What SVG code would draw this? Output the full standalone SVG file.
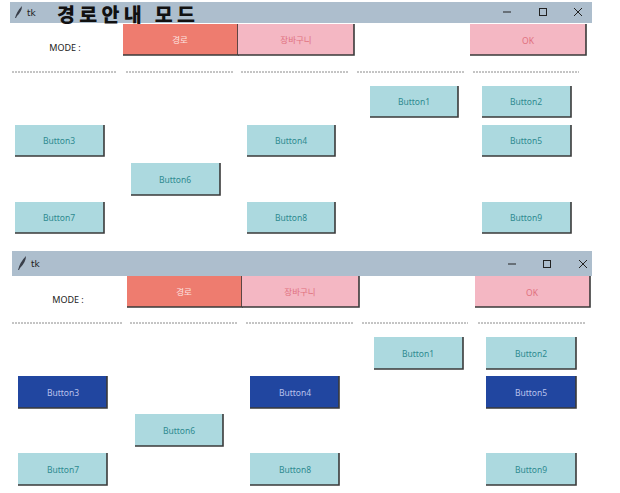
<svg xmlns="http://www.w3.org/2000/svg" width="620" height="493" viewBox="0 0 620 493">
<style>
.bar{fill:#adbecd}
.lb{fill:#acd9df}
.pk{fill:#f4b7c3}
.sa{fill:#ee7c6f}
.db{fill:#2146a0}
.sh{fill:none;stroke:#3a3a3a;stroke-width:1.6}
.t{font-family:"Noto Sans","Noto Sans CJK KR",sans-serif;font-size:8.5px;text-anchor:middle;dominant-baseline:central}
.tlb{fill:#2e8a90}
.tpk{fill:#e0707e}
.tsa{fill:#fde4e0}
.tdb{fill:#b9c2ec}
.lab{font-family:"Noto Sans",sans-serif;font-size:9px;fill:#222;text-anchor:middle;dominant-baseline:central}
.dash{stroke:#8a8a8a;stroke-width:1;stroke-dasharray:2 1}
.ctl{fill:none;stroke:#222;stroke-width:1}
.tk{font-family:"DejaVu Sans",sans-serif;font-size:9px;fill:#222}
.fea{fill:#3a3f4a}
</style>

<!-- Top window -->
<g id="window1">
  <g id="titlebar1">
    <rect class="bar" x="10" y="2" width="582" height="21"/>
    <path class="fea" d="M15 18 Q17 11 22 6 Q22 11 17 16 L16 18 Z"/>
    <text class="tk" x="27" y="16">tk</text>
    <text x="57" y="22" font-family="'Noto Sans CJK KR',sans-serif" font-size="19.5" font-weight="900" fill="#111" textLength="138" lengthAdjust="spacing">경로안내 모드</text>
    <line class="ctl" x1="503" y1="12" x2="511" y2="12"/>
    <rect class="ctl" x="539.5" y="8.5" width="7" height="7"/>
    <path class="ctl" d="M574 8 L582 16 M582 8 L574 16"/>
  </g>
  <g id="mode1"><text class="lab" x="65" y="47">MODE :</text></g>
  <g id="btn-route1">
    <rect class="sa" x="123" y="24" width="115" height="31"/>
    <polyline class="sh" points="123,55 238,55 238,24"/>
    <text class="t tsa" x="180" y="39">경로</text>
  </g>
  <g id="btn-cart1">
    <rect class="pk" x="238" y="24" width="116" height="31"/>
    <polyline class="sh" points="238,55 354,55 354,24"/>
    <text class="t tpk" x="296" y="39">장바구니</text>
  </g>
  <g id="btn-ok1">
    <rect class="pk" x="470" y="24" width="116" height="31"/>
    <polyline class="sh" points="470,55 586,55 586,24"/>
    <text class="t tpk" x="528" y="40">OK</text>
  </g>
  <g id="sep1">
    <line class="dash" x1="12" y1="72" x2="117" y2="72"/>
    <line class="dash" x1="126" y1="72" x2="233" y2="72"/>
    <line class="dash" x1="241" y1="72" x2="349" y2="72"/>
    <line class="dash" x1="357" y1="72" x2="465" y2="72"/>
    <line class="dash" x1="473" y1="72" x2="579" y2="72"/>
  </g>
  <g id="b1-1"><rect class="lb" x="370" y="86" width="88" height="31"/><polyline class="sh" points="370,117 458,117 458,86"/><text class="t tlb" x="414" y="101">Button1</text></g>
  <g id="b1-2"><rect class="lb" x="482" y="86" width="89" height="31"/><polyline class="sh" points="482,117 571,117 571,86"/><text class="t tlb" x="526" y="101">Button2</text></g>
  <g id="b1-3"><rect class="lb" x="15" y="125" width="89" height="31"/><polyline class="sh" points="15,156 104,156 104,125"/><text class="t tlb" x="59" y="140">Button3</text></g>
  <g id="b1-4"><rect class="lb" x="247" y="125" width="88" height="31"/><polyline class="sh" points="247,156 335,156 335,125"/><text class="t tlb" x="291" y="140">Button4</text></g>
  <g id="b1-5"><rect class="lb" x="482" y="125" width="89" height="31"/><polyline class="sh" points="482,156 571,156 571,125"/><text class="t tlb" x="526" y="140">Button5</text></g>
  <g id="b1-6"><rect class="lb" x="131" y="163" width="89" height="32"/><polyline class="sh" points="131,195 220,195 220,163"/><text class="t tlb" x="175" y="179">Button6</text></g>
  <g id="b1-7"><rect class="lb" x="15" y="202" width="89" height="31"/><polyline class="sh" points="15,233 104,233 104,202"/><text class="t tlb" x="59" y="217">Button7</text></g>
  <g id="b1-8"><rect class="lb" x="247" y="202" width="88" height="31"/><polyline class="sh" points="247,233 335,233 335,202"/><text class="t tlb" x="291" y="217">Button8</text></g>
  <g id="b1-9"><rect class="lb" x="482" y="202" width="89" height="31"/><polyline class="sh" points="482,233 571,233 571,202"/><text class="t tlb" x="526" y="217">Button9</text></g>
</g>

<!-- Bottom window -->
<g id="window2">
  <g id="titlebar2">
    <rect class="bar" x="12" y="251" width="580" height="25"/>
    <path class="fea" d="M18 270 Q20 262 26 256 Q26 262 20 268 L19 270 Z"/>
    <text class="tk" x="31" y="267">tk</text>
    <line class="ctl" x1="508" y1="264" x2="516" y2="264"/>
    <rect class="ctl" x="543.5" y="260.5" width="7" height="7"/>
    <path class="ctl" d="M579 260 L587 268 M587 260 L579 268"/>
  </g>
  <g id="mode2"><text class="lab" x="68" y="299">MODE :</text></g>
  <g id="btn-route2">
    <rect class="sa" x="127" y="276" width="115" height="31"/>
    <polyline class="sh" points="127,307 242,307 242,276"/>
    <text class="t tsa" x="184" y="291">경로</text>
  </g>
  <g id="btn-cart2">
    <rect class="pk" x="242" y="276" width="117" height="31"/>
    <polyline class="sh" points="242,307 359,307 359,276"/>
    <text class="t tpk" x="300" y="291">장바구니</text>
  </g>
  <g id="btn-ok2">
    <rect class="pk" x="475" y="276" width="115" height="31"/>
    <polyline class="sh" points="475,307 590,307 590,276"/>
    <text class="t tpk" x="532" y="292">OK</text>
  </g>
  <g id="sep2">
    <line class="dash" x1="12" y1="323" x2="122" y2="323"/>
    <line class="dash" x1="130" y1="323" x2="237" y2="323"/>
    <line class="dash" x1="246" y1="323" x2="353" y2="323"/>
    <line class="dash" x1="362" y1="323" x2="468" y2="323"/>
    <line class="dash" x1="478" y1="323" x2="585" y2="323"/>
  </g>
  <g id="b2-1"><rect class="lb" x="374" y="337" width="89" height="32"/><polyline class="sh" points="374,369 463,369 463,337"/><text class="t tlb" x="418" y="353">Button1</text></g>
  <g id="b2-2"><rect class="lb" x="486" y="337" width="90" height="32"/><polyline class="sh" points="486,369 576,369 576,337"/><text class="t tlb" x="531" y="353">Button2</text></g>
  <g id="b2-3"><rect class="db" x="18" y="376" width="89" height="32"/><polyline class="sh" points="18,408 107,408 107,376"/><text class="t tdb" x="63" y="392">Button3</text></g>
  <g id="b2-4"><rect class="db" x="250" y="376" width="89" height="32"/><polyline class="sh" points="250,408 339,408 339,376"/><text class="t tdb" x="295" y="392">Button4</text></g>
  <g id="b2-5"><rect class="db" x="486" y="376" width="90" height="32"/><polyline class="sh" points="486,408 576,408 576,376"/><text class="t tdb" x="531" y="392">Button5</text></g>
  <g id="b2-6"><rect class="lb" x="135" y="414" width="88" height="32"/><polyline class="sh" points="135,446 223,446 223,414"/><text class="t tlb" x="179" y="430">Button6</text></g>
  <g id="b2-7"><rect class="lb" x="18" y="453" width="89" height="32"/><polyline class="sh" points="18,485 107,485 107,453"/><text class="t tlb" x="63" y="469">Button7</text></g>
  <g id="b2-8"><rect class="lb" x="250" y="453" width="89" height="32"/><polyline class="sh" points="250,485 339,485 339,453"/><text class="t tlb" x="295" y="469">Button8</text></g>
  <g id="b2-9"><rect class="lb" x="486" y="453" width="90" height="32"/><polyline class="sh" points="486,485 576,485 576,453"/><text class="t tlb" x="531" y="469">Button9</text></g>
</g>
</svg>
